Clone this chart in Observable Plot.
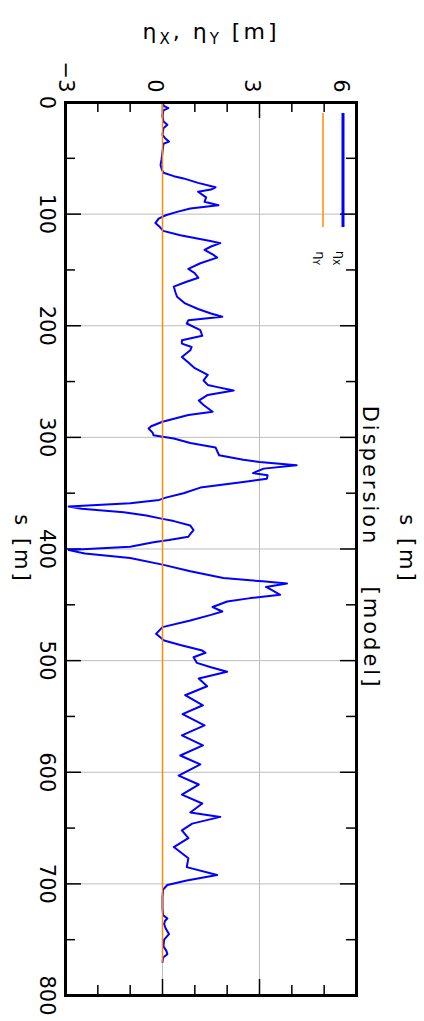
<!DOCTYPE html>
<html>
<head>
<meta charset="utf-8">
<script src="https://cdn.jsdelivr.net/npm/d3@7"></script>
<script src="https://cdn.jsdelivr.net/npm/@observablehq/plot@0.6"></script>
<style>
  html, body { margin: 0; padding: 0; background: #fff; }
  #chart svg { display: block; }
</style>
</head>
<body>
<div id="chart"></div>
<script>
// Horizontal dispersion along the lattice, s [m]
const sX = [0, 3, 5, 7, 12, 17, 20, 23, 29, 32, 35, 37, 44, 51, 56, 60, 63, 66, 68, 72,
  76, 78, 80, 83, 85, 89, 92, 95, 98, 101, 104, 108, 111, 115, 119, 124, 126, 129, 132, 136,
  139, 144, 149, 153, 157, 161, 165, 170, 174, 180, 185, 189, 192, 195, 198, 204, 209, 213, 216, 219,
  222, 228, 233, 238, 244, 249, 253, 255, 258, 262, 267, 271, 277, 280, 286, 290, 292, 296, 298, 301,
  305, 309, 316, 320, 322, 325, 328, 332, 334, 337, 340, 345, 350, 354, 356, 359, 362, 364, 367, 370,
  373, 375, 379, 383, 387, 389, 392, 394, 398, 401, 404, 408, 414, 420, 426, 429, 431, 434, 437, 441,
  444, 447, 452, 456, 459, 464, 470, 476, 482, 486, 491, 493, 497, 502, 506, 510, 516, 523, 531, 540,
  548, 558, 567, 576, 585, 593, 603, 611, 620, 628, 636, 640, 646, 652, 659, 667, 677, 685, 692, 697,
  701, 705, 712, 722, 728, 731, 733, 736, 740, 745, 750, 756, 760, 763, 766, 770];
// eta_X [m]
const etaX = [0, 0.04, 0.18, 0.03, 0, 0.03, 0.15, 0.03, 0, 0.08, 0.2, 0.03, 0, -0.03, -0.06, -0.02, 0.03, 0.35, 0.65, 1.1,
  1.64, 1.5, 1.1, 1.25, 1.35, 1.3, 1.73, 0.86, 0.45, 0.1, -0.12, -0.22, -0.1, 0.02, 0.55, 1.48, 1.79, 1.5, 1.3, 1.55,
  1.69, 1.17, 0.8, 1.0, 1.11, 0.7, 0.35, 0.4, 0.45, 0.7, 1.1, 1.5, 1.85, 0.8, 0.75, 1.17, 1.23, 0.6, 0.6, 0.9,
  0.86, 0.6, 0.8, 1.0, 1.4, 1.27, 1.4, 1.7, 2.2, 1.4, 1.12, 1.27, 1.55, 0.8, 0.0, -0.35, -0.43, -0.3, -0.28, 0.35,
  0.86, 1.64, 1.75, 2.5, 3.0, 4.15, 3.13, 2.8, 3.25, 3.23, 2.5, 1.17, 0.65, 0.1, -0.1, -1.0, -2.9, -2.5, -1.2, -0.5,
  0.0, 0.35, 0.86, 0.96, 0.85, 0.8, 0.2, -0.28, -1.0, -2.9, -2.4, -1.0, 0.0, 0.86, 1.88, 3.1, 3.85, 3.2, 3.4, 3.64,
  2.72, 2.0, 1.55, 1.85, 1.5, 0.86, 0.0, -0.2, 0.05, 0.55, 1.23, 1.33, 0.96, 1.06, 1.5, 2.0, 1.12, 1.38, 0.7, 1.25,
  0.62, 1.3, 0.6, 1.25, 0.55, 1.17, 0.5, 1.12, 0.6, 1.23, 0.86, 1.79, 0.92, 0.6, 0.8, 0.35, 0.8, 0.75, 1.69, 0.75,
  0.15, 0.02, 0, 0, 0.02, 0.15, 0.08, 0.05, 0.1, 0.2, 0.05, 0.03, 0.12, 0.15, 0.02, 0];

// Vertical dispersion (flat lattice)
const sY = [0, 770];
const etaY = [0, 0];

// Axis ticks
const etaTickValues = [-3, 0, 3, 6];
const etaTickText = ["\u22123", "0", "3", "6"];
const etaMajor = [-3, 0, 3, 6];
const etaMinor = [-2, -1, 1, 2, 4, 5];
const etaGrid = [0, 3];
const sTickValues = [0, 100, 200, 300, 400, 500, 600, 700, 800];
const sMinor = [50, 150, 250, 350, 450, 550, 650, 750];
const sGrid = [100, 200, 300, 400, 500, 600, 700];

// Labels
const etaTitle = "\u03b7X, \u03b7Y [m]";
const sTitle = "s [m]";
const plotTitle = "Dispersion";
const plotTag = "[model]";
const legendItems = [
  {sub: "X", color: "#0000ff", width: 3},
  {sub: "Y", color: "#ff8c00", width: 1.5}
];

const W = 424, H = 1021;
const mL = 65, mR = 68, mT = 102, mB = 26;
const frameW = W - mL - mR, frameH = H - mT - mB;
const blue = "#0000ff", orange = "#ff8c00", gridColor = "#bdbdbd";

const dataX = sX.map((s, i) => ({s, eta: etaX[i]}));
const dataY = sY.map((s, i) => ({s, eta: etaY[i]}));
const etaLabels = etaTickValues.map((v, i) => ({v, t: etaTickText[i]}));

// Legend drawn at the top-right corner of the frame
function legend(index, scales, values, dims) {
  const right = dims.width - dims.marginRight;
  const top = dims.marginTop;
  const g = d3.create("svg:g");
  legendItems.forEach((item, i) => {
    const x = right - 13 - 20 * i;
    g.append("line")
      .attr("x1", x).attr("x2", x)
      .attr("y1", top + 11).attr("y2", top + 125)
      .attr("stroke", item.color).attr("stroke-width", item.width);
    const t = g.append("text")
      .attr("transform", `translate(${x - 3},${top + 156}) rotate(90)`)
      .attr("text-anchor", "middle")
      .attr("dy", "0.32em")
      .attr("font-size", 13)
      .attr("fill", "black");
    t.append("tspan").text("\u03b7");
    t.append("tspan").attr("font-size", 9).attr("dy", 3).text(item.sub);
  });
  return g.node();
}

const chart = Plot.plot({
  width: W,
  height: H,
  marginLeft: mL,
  marginRight: mR,
  marginTop: mT,
  marginBottom: mB,
  style: {background: "white", fontFamily: "DejaVu Sans", fontSize: "21px", overflow: "visible"},
  x: {domain: [-3, 6], axis: null},
  y: {domain: [0, 800], reverse: true, axis: null},
  marks: [
    // grid
    Plot.ruleX(etaGrid, {x: d => d, stroke: gridColor, strokeWidth: 1}),
    Plot.ruleY(sGrid, {y: d => d, stroke: gridColor, strokeWidth: 1}),
    // inward ticks on all four sides
    Plot.tickY(sTickValues, {y: d => d, insetRight: frameW - 16, strokeWidth: 1.5}),
    Plot.tickY(sMinor, {y: d => d, insetRight: frameW - 10, strokeWidth: 1.5}),
    Plot.tickY(sTickValues, {y: d => d, insetLeft: frameW - 16, strokeWidth: 1.5}),
    Plot.tickY(sMinor, {y: d => d, insetLeft: frameW - 10, strokeWidth: 1.5}),
    Plot.tickX(etaMajor, {x: d => d, insetBottom: frameH - 16, strokeWidth: 1.5}),
    Plot.tickX(etaMinor, {x: d => d, insetBottom: frameH - 10, strokeWidth: 1.5}),
    Plot.tickX(etaMajor, {x: d => d, insetTop: frameH - 16, strokeWidth: 1.5}),
    Plot.tickX(etaMinor, {x: d => d, insetTop: frameH - 10, strokeWidth: 1.5}),
    // data
    Plot.line(dataX, {x: "eta", y: "s", stroke: blue, strokeWidth: 2, curve: "linear"}),
    Plot.line(dataY, {x: "eta", y: "s", stroke: orange, strokeWidth: 1.5}),
    legend,
    Plot.frame({stroke: "black", strokeWidth: 3}),
    // tick labels
    Plot.text(etaLabels.filter(d => d.v === -3), {x: "v", text: "t", frameAnchor: "top", dy: -10, dx: 8, rotate: 90, textAnchor: "end"}),
    Plot.text(etaLabels.filter(d => d.v !== -3 && d.v !== 6), {x: "v", text: "t", frameAnchor: "top", dy: -10, rotate: 90, textAnchor: "end"}),
    Plot.text(etaLabels.filter(d => d.v === 6), {x: "v", text: "t", frameAnchor: "top", dy: -10, dx: -8, rotate: 90, textAnchor: "end"}),
    Plot.text(sTickValues, {y: d => d, text: d => String(d), frameAnchor: "left", dx: -19, rotate: 90, textAnchor: "middle"}),
    // titles
    Plot.text([etaTitle], {frameAnchor: "top", dy: -79, text: d => d, textAnchor: "middle", fontSize: 22}),
    Plot.text([sTitle], {frameAnchor: "left", dx: -44, rotate: 90, text: d => d, textAnchor: "middle"}),
    Plot.text([sTitle], {frameAnchor: "right", dx: 50, rotate: 90, text: d => d, textAnchor: "middle"}),
    Plot.text([plotTitle], {frameAnchor: "right", dx: 13, dy: -73, rotate: 90, text: d => d, textAnchor: "middle"}),
    Plot.text([plotTag], {frameAnchor: "right", dx: 14, dy: 89, rotate: 90, text: d => d, textAnchor: "middle"})
  ]
});

document.getElementById("chart").appendChild(chart);

// Titles: wider letter spacing and subscripts for the eta label
const titleSet = new Set([etaTitle, sTitle, plotTitle, plotTag]);
d3.select(chart).selectAll("text")
  .filter(function() { return titleSet.has(this.textContent); })
  .style("letter-spacing", "3px");

d3.select(chart).selectAll("text")
  .filter(function() { return this.textContent === etaTitle; })
  .each(function() {
    const t = d3.select(this);
    t.text(null);
    t.append("tspan").text("\u03b7");
    t.append("tspan").attr("font-size", 15).attr("dy", 5).text("X");
    t.append("tspan").attr("dy", -5).text(", \u03b7");
    t.append("tspan").attr("font-size", 15).attr("dy", 5).text("Y");
    t.append("tspan").attr("dy", -5).text(" [m]");
  });
</script>
</body>
</html>
